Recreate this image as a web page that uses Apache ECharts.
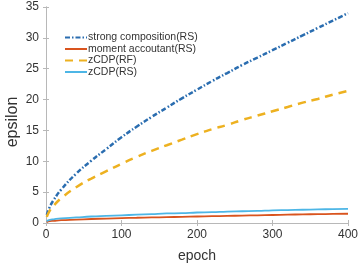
<!DOCTYPE html>
<html>
<head>
<meta charset="utf-8">
<script src="https://cdn.jsdelivr.net/npm/echarts@6/dist/echarts.min.js"></script>
<style>
html,body{margin:0;padding:0;background:#fff;}
#main{width:358px;height:270px;}
</style>
</head>
<body>
<div id="main"></div>
<script>
var epochs = [1, 5, 10, 20, 40, 60, 80, 100, 120, 140, 160, 180, 200, 220, 240, 260, 280, 300, 320, 340, 360, 380, 400];
var strongRS = [1.3, 2.6, 3.7, 5.4, 8.0, 10.1, 12.0, 13.9, 15.6, 17.2, 18.7, 20.2, 21.6, 23.0, 24.3, 25.6, 26.8, 28.0, 29.2, 30.4, 31.6, 32.8, 34.0];
var momentRS = [0.15, 0.3, 0.35, 0.45, 0.55, 0.65, 0.72, 0.8, 0.85, 0.9, 0.95, 1.0, 1.05, 1.1, 1.15, 1.2, 1.25, 1.3, 1.35, 1.4, 1.43, 1.47, 1.5];
var zcdpRF = [1.0, 2.0, 2.8, 4.0, 5.8, 7.2, 8.4, 9.6, 10.7, 11.7, 12.6, 13.5, 14.4, 15.2, 15.9, 16.7, 17.4, 18.1, 18.8, 19.5, 20.1, 20.8, 21.4];
var zcdpRS = [0.3, 0.5, 0.6, 0.75, 0.9, 1.05, 1.15, 1.25, 1.35, 1.45, 1.55, 1.6, 1.7, 1.75, 1.85, 1.9, 1.95, 2.05, 2.1, 2.15, 2.2, 2.25, 2.3];
var names = ['strong composition(RS)', 'moment accoutant(RS)', 'zCDP(RF)', 'zCDP(RS)'];

function pairs(ys) {
    return epochs.map(function (x, i) { return [x, ys[i]]; });
}

var chart = echarts.init(document.getElementById('main'));
var font = 'Liberation Sans, Arial, sans-serif';
var frame = {show: true, lineStyle: {color: '#b8b8b8', width: 1}};
var tickIn = {show: true, inside: true, length: 3, lineStyle: {color: '#b8b8b8'}};

var option = {
    animation: false,
    backgroundColor: '#fff',
    grid: {left: 46, right: 10, top: 7, bottom: 47, outerBoundsMode: 'none', containLabel: false},
    // y axis title, placed a little below the plot middle as in the picture
    graphic: [{
        type: 'text', x: 13, y: 122, rotation: Math.PI / 2,
        style: {text: 'epsilon', fontSize: 16, fill: '#333', fontFamily: font,
                align: 'center', verticalAlign: 'middle'}
    }],
    legend: {
        orient: 'vertical',
        left: 59, top: 27,
        itemWidth: 22, itemHeight: 8, itemGap: 0.5,
        itemStyle: {opacity: 0},
        textStyle: {fontSize: 10.5, color: '#333', fontFamily: font, padding: [0, 0, 0, -4]},
        data: names
    },
    xAxis: [{
        type: 'value', min: 0, max: 400, interval: 100,
        name: 'epoch', nameLocation: 'middle', nameGap: 26,
        nameTextStyle: {fontSize: 14, color: '#333', fontFamily: font},
        axisLine: frame, axisTick: tickIn, splitLine: {show: false},
        axisLabel: {fontSize: 12, color: '#333', fontFamily: font, margin: 6}
    }, {
        type: 'value', min: 0, max: 400, interval: 100, position: 'top',
        axisLine: frame, axisTick: tickIn, splitLine: {show: false},
        axisLabel: {show: false}
    }],
    yAxis: [{
        type: 'value', min: 0, max: 35, interval: 5,
        axisLine: frame, axisTick: tickIn, splitLine: {show: false},
        axisLabel: {fontSize: 12, color: '#333', fontFamily: font, margin: 7}
    }, {
        type: 'value', min: 0, max: 35, interval: 5, position: 'right',
        axisLine: frame, axisTick: tickIn, splitLine: {show: false},
        axisLabel: {show: false}
    }],
    series: [{
        name: names[0], type: 'line', symbol: 'none', smooth: true,
        data: pairs(strongRS),
        lineStyle: {color: '#2a6db0', width: 2.5, type: [5, 2, 1.5, 2]},
        itemStyle: {color: '#2a6db0'}
    }, {
        name: names[1], type: 'line', symbol: 'none', smooth: true,
        data: pairs(momentRS),
        lineStyle: {color: '#d9541e', width: 1.8},
        itemStyle: {color: '#d9541e'}
    }, {
        name: names[2], type: 'line', symbol: 'none', smooth: true,
        data: pairs(zcdpRF),
        lineStyle: {color: '#edb120', width: 2.5, type: [8, 6]},
        itemStyle: {color: '#edb120'}
    }, {
        name: names[3], type: 'line', symbol: 'none', smooth: true,
        data: pairs(zcdpRS),
        lineStyle: {color: '#4db6e6', width: 1.8},
        itemStyle: {color: '#4db6e6'}
    }]
};

chart.setOption(option);
</script>
</body>
</html>
